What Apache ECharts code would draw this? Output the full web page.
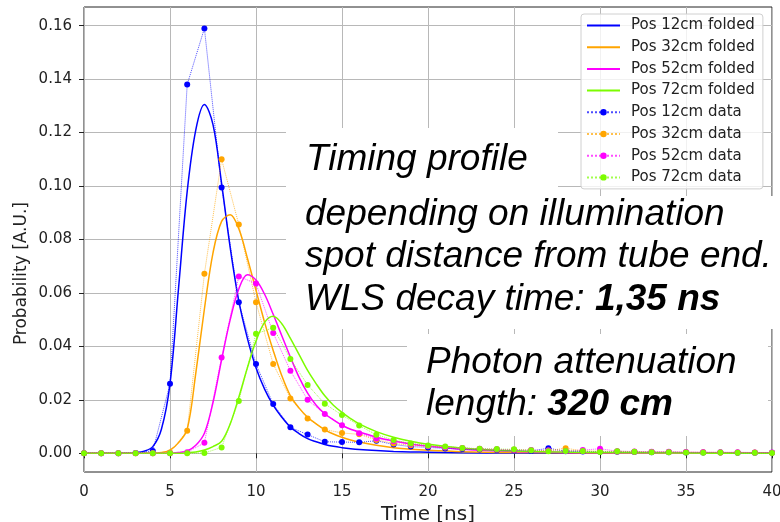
<!DOCTYPE html>
<html>
<head>
<meta charset="utf-8">
<script src="https://cdn.jsdelivr.net/npm/echarts@6/dist/echarts.min.js"></script>
<style>
  html, body { margin: 0; padding: 0; background: #fff; }
  #chart { width: 780px; height: 522px; }
</style>
</head>
<body>
<div id="chart"></div>
<script>
// time grid of the data points (ns)
const dataX = [0,1,2,3,4,5,6,7,8,9,10,11,12,13,14,15,16,17,18,19,20,
  21,22,23,24,25,26,27,28,29,30,31,32,33,34,35,36,37,38,39,40];

const data12 = [0,0,0,0.0001,0.0009,0.026,0.138,0.159,0.0995,0.0565,0.0334,0.0184,0.0097,0.007,0.0043,0.0042,0.0041,0.0047,0.0033,0.0025,0.0022,
  0.0018,0.0016,0.0014,0.0012,0.0011,0.0009,0.0019,0.0008,0.0007,0.0006,0.0006,0.0005,0.0004,0.0004,0.0003,0.0003,0.0003,0.0002,0.0002,0.0002];
const data32 = [0,0,0,0,0,0.0003,0.0084,0.0672,0.110,0.0856,0.0565,0.0334,0.0205,0.013,0.0089,0.0076,0.0071,0.005,0.0037,0.003,0.0026,
  0.0022,0.0019,0.0016,0.0014,0.0013,0.0011,0.001,0.0019,0.0009,0.0008,0.0007,0.0006,0.0005,0.0005,0.0004,0.0004,0.0003,0.0003,0.0003,0.0002];
const data52 = [0,0,0,0,0,0,0.0004,0.0039,0.0358,0.0662,0.0635,0.045,0.0309,0.02,0.0147,0.0105,0.0075,0.0055,0.0045,0.0034,0.0027,
  0.0023,0.002,0.0017,0.0015,0.0013,0.0012,0.001,0.0009,0.0012,0.0017,0.0008,0.0007,0.0006,0.0006,0.0005,0.0004,0.0004,0.0004,0.0003,0.0003];
const data72 = [0,0,0,0,0,0,0,0.0001,0.0022,0.0196,0.0447,0.047,0.0353,0.0256,0.0185,0.0143,0.0104,0.0069,0.005,0.0037,0.0029,
  0.0025,0.002,0.0017,0.0016,0.0015,0.0011,0.0008,0.0009,0.0009,0.0005,0.0008,0.0006,0.0004,0.0004,0.0003,0.0002,0.0003,0.0002,0.0002,0.0001];

// folded model curves, every 0.5 ns up to 16 ns
const foldX = [0,0.5,1,1.5,2,2.5,3,3.5,4,4.5,5,5.5,6,6.5,7,7.5,8,8.5,9,9.5,10,10.5,11,11.5,12,12.5,13,13.5,14,14.5,15,15.5,16,
  17,18,19,20,22,25,30,35,40];
const fold12 = [0,0,0,0,0,0,0.0002,0.0008,0.0025,0.009,0.026,0.062,0.098,0.121,0.1305,0.123,0.101,0.077,0.057,0.043,0.032,0.024,0.018,0.0135,0.0098,0.0074,0.0055,0.0043,0.0033,0.0026,0.0021,0.0017,0.0014,
  0.001,0.0007,0.0005,0.0004,0.0002,0.0001,0,0,0];
const fold32 = [0,0,0,0,0,0,0,0,0,0.0003,0.0012,0.004,0.009,0.03,0.054,0.075,0.0868,0.0893,0.084,0.073,0.061,0.049,0.0385,0.029,0.0215,0.017,0.0135,0.011,0.0088,0.0072,0.006,0.005,0.0042,
  0.003,0.0021,0.0015,0.0011,0.0006,0.0003,0.0001,0,0];
const fold52 = [0,0,0,0,0,0,0,0,0,0,0,0.0003,0.0009,0.003,0.0075,0.019,0.035,0.05,0.0615,0.0668,0.0648,0.0595,0.052,0.044,0.036,0.0285,0.0225,0.018,0.0148,0.0125,0.0105,0.009,0.008,
  0.006,0.0046,0.0035,0.0027,0.0015,0.0007,0.0002,0.0001,0];
const fold72 = [0,0,0,0,0,0,0,0,0,0,0,0,0.0002,0.0005,0.0012,0.0025,0.0045,0.011,0.021,0.032,0.042,0.049,0.0513,0.0485,0.043,0.037,0.031,0.026,0.0215,0.018,0.0153,0.013,0.011,
  0.0081,0.006,0.0045,0.0034,0.0019,0.0009,0.0003,0.0001,0];

const yTicks = [0, 0.02, 0.04, 0.06, 0.08, 0.10, 0.12, 0.14, 0.16];
const positions = ['Pos 12cm', 'Pos 32cm', 'Pos 52cm', 'Pos 72cm'];
const colors = ['#0000ff', '#ffa500', '#ff00ff', '#7cfc00'];

const pairs = (xs, ys) => xs.map((x, i) => [x, ys[i]]);
const folded = [fold12, fold32, fold52, fold72];
const measured = [data12, data32, data52, data72];

const series = [];
folded.forEach((ys, i) => {
  series.push({
    name: positions[i] + ' folded',
    type: 'line',
    data: pairs(foldX, ys),
    smooth: 0.35,
    symbol: 'none',
    color: colors[i],
    lineStyle: { width: 1.5, color: colors[i] },
    z: 2
  });
});
measured.forEach((ys, i) => {
  series.push({
    name: positions[i] + ' data',
    type: 'line',
    data: pairs(dataX, ys),
    symbol: 'circle',
    symbolSize: 6,
    color: colors[i],
    itemStyle: { color: colors[i] },
    lineStyle: { width: 1, type: 'dotted', color: colors[i], opacity: 0.7 },
    z: 3
  });
});

// folded entries show only a line in the legend
const legendData = series.map(s => s.name.endsWith('folded')
  ? { name: s.name, itemStyle: { opacity: 0 } }
  : { name: s.name });

const chart = echarts.init(document.getElementById('chart'), null, { renderer: 'canvas' });

const tickFont = { fontFamily: 'DejaVu Sans', fontSize: 15, color: '#222' };
const boxFont = 'Liberation Sans';

chart.setOption({
  animation: false,
  backgroundColor: '#fff',
  grid: {
    left: 84, right: 8, top: 7, bottom: 50,
    outerBoundsMode: 'none',
    containLabel: false,
    show: true, borderColor: '#222', borderWidth: 1, backgroundColor: 'transparent'
  },
  legend: {
    orient: 'vertical',
    left: 581,
    top: 14,
    padding: [4, 8, 4, 5],
    itemWidth: 33,
    itemHeight: 8,
    itemGap: 6.7,
    backgroundColor: 'rgba(255,255,255,0.8)',
    borderColor: '#d0d0d0',
    borderWidth: 1,
    borderRadius: 3,
    textStyle: { fontFamily: 'DejaVu Sans', fontSize: 15, color: '#222', lineHeight: 14, padding: [0, 0, 0, 6] },
    data: legendData
  },
  xAxis: {
    type: 'value',
    min: 0, max: 40, interval: 5,
    name: 'Time [ns]',
    nameLocation: 'middle',
    nameGap: 30,
    nameTextStyle: { fontFamily: 'DejaVu Sans', fontSize: 20, color: '#222' },
    axisLine: { show: false },
    axisTick: { show: true, length: 5, lineStyle: { color: '#222' } },
    axisLabel: Object.assign({ margin: 13 }, tickFont),
    splitLine: { show: true, lineStyle: { color: '#b8b8b8', width: 1 } }
  },
  yAxis: {
    type: 'value',
    min: -0.007, max: 0.167,
    axisLine: { show: false },
    axisTick: { show: true, length: 5, customValues: yTicks, lineStyle: { color: '#222' } },
    axisLabel: Object.assign({
      margin: 12,
      customValues: yTicks,
      formatter: v => v.toFixed(2)
    }, tickFont),
    splitLine: { show: true, lineStyle: { color: '#b8b8b8', width: 1 } }
  },
  graphic: [
    { type: 'text', left: 13, top: 202, rotation: Math.PI / 2,
      style: { text: 'Probability [A.U.]', font: '17px "DejaVu Sans"', fill: '#222' } },
    { type: 'rect', shape: { x: 286, y: 128, width: 272, height: 70 }, style: { fill: '#fff' }, z: 100 },
    { type: 'rect', shape: { x: 286, y: 196, width: 494, height: 133 }, style: { fill: '#fff' }, z: 100 },
    { type: 'rect', shape: { x: 407, y: 334, width: 361, height: 102 }, style: { fill: '#fff' }, z: 100 },
    { type: 'text', x: 306, y: 160, z: 101,
      style: { text: 'Timing profile', fontFamily: boxFont, fontSize: 37, fontStyle: 'italic', fill: '#000', verticalAlign: 'middle' } },
    { type: 'text', x: 305, y: 215, z: 101,
      style: { text: 'depending on illumination', fontFamily: boxFont, fontSize: 37, fontStyle: 'italic', fill: '#000', verticalAlign: 'middle' } },
    { type: 'text', x: 305, y: 257, z: 101,
      style: { text: 'spot distance from tube end.', fontFamily: boxFont, fontSize: 37, fontStyle: 'italic', fill: '#000', verticalAlign: 'middle' } },
    { type: 'text', x: 305, y: 300, z: 101,
      style: {
        text: '{n|WLS decay time: }{b|1,35 ns}', verticalAlign: 'middle',
        rich: {
          n: { fontFamily: boxFont, fontSize: 37, fontStyle: 'italic', fill: '#000' },
          b: { fontFamily: boxFont, fontSize: 37, fontStyle: 'italic', fontWeight: 'bold', fill: '#000' }
        }
      } },
    { type: 'text', x: 426, y: 363, z: 101,
      style: { text: 'Photon attenuation', fontFamily: boxFont, fontSize: 37, fontStyle: 'italic', fill: '#000', verticalAlign: 'middle' } },
    { type: 'text', x: 426, y: 405, z: 101,
      style: {
        text: '{n|length: }{b|320 cm}', verticalAlign: 'middle',
        rich: {
          n: { fontFamily: boxFont, fontSize: 37, fontStyle: 'italic', fill: '#000' },
          b: { fontFamily: boxFont, fontSize: 37, fontStyle: 'italic', fontWeight: 'bold', fill: '#000' }
        }
      } }
  ],
  series: series
});
</script>
</body>
</html>
